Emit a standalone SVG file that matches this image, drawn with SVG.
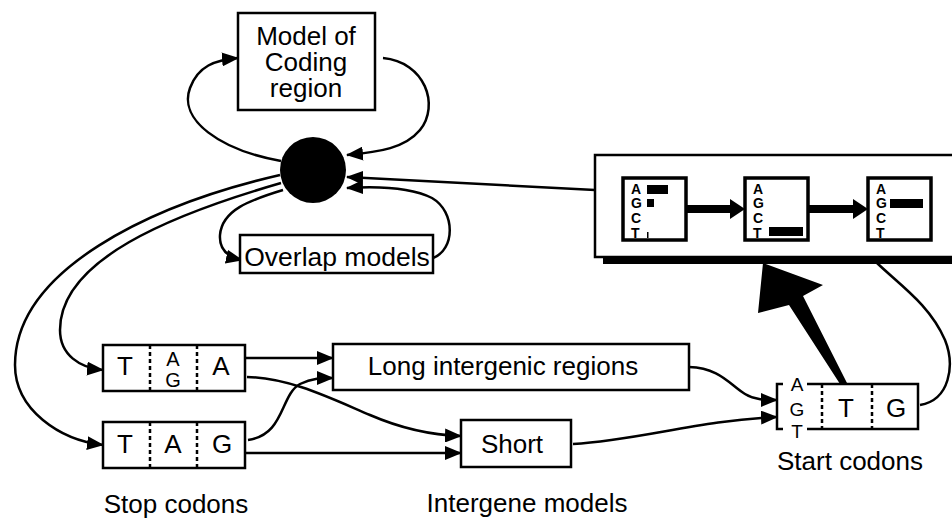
<svg xmlns="http://www.w3.org/2000/svg" width="952" height="520" viewBox="0 0 952 520">
<style>
.box{fill:#fff;stroke:#000;stroke-width:2.5}
.ibox{fill:#fff;stroke:#000;stroke-width:3.5}
.t{font-family:"Liberation Sans",Arial,sans-serif;font-size:26px;fill:#000}
.m{text-anchor:middle}
.s{font-family:"Liberation Sans",Arial,sans-serif;font-size:14px;font-weight:bold;fill:#000}
.dot{stroke:#000;stroke-width:2.5;stroke-dasharray:4 3}
.c{fill:none;stroke:#000;stroke-width:2.5}
.ca{fill:none;stroke:#000;stroke-width:2.5;marker-end:url(#ah)}
</style>
<defs>
<marker id="ah" viewBox="0 0 17 14" refX="16" refY="7" markerWidth="17" markerHeight="14" markerUnits="userSpaceOnUse" orient="auto">
<path d="M0,0 L17,7 L0,14 Z" fill="#000"/>
</marker>
</defs>
<rect width="952" height="520" fill="#fff"/>

<g id="connectors">
<path class="ca" d="M281,161 C220,150 178,120 190,88 C198,66 215,60 238,58"/>
<path class="ca" d="M383,58 C425,62 440,105 420,130 C405,148 380,152 347,155"/>
<path class="ca" d="M595,190 L347,177"/>
<path class="ca" d="M433,258 C455,250 456,212 432,198 C412,188 380,186 347,188"/>
<path class="ca" d="M283,190 C250,200 222,210 220,235 C219,250 228,257 242,260"/>
<path class="ca" d="M281,183 C170,215 60,260 60,330 C60,355 80,368 103,370"/>
<path class="ca" d="M280,175 C150,205 15,270 15,365 C15,410 60,440 103,445"/>
<path class="ca" d="M245,358 L333,358"/>
<path class="ca" d="M247,377 C290,378 330,398 370,415 C400,428 430,435 461,436"/>
<path class="ca" d="M248,440 C285,435 280,395 300,384 C312,378 322,378 333,378"/>
<path class="ca" d="M245,453 L461,453"/>
<path class="ca" d="M689,367 C720,368 730,385 745,394 C755,400 765,400 777,400"/>
<path class="ca" d="M573,444 C640,440 700,420 777,417"/>
<path class="c" d="M920,405 C950,400 955,365 945,340 C930,305 900,285 877,263"/>
</g>

<g id="panel">
<rect x="603" y="257" width="360" height="7" fill="#000"/>
<rect class="box" x="595" y="155" width="370" height="102"/>
<rect class="ibox" x="623" y="178" width="63" height="62"/>
<text class="s" x="631" y="194">A</text><text class="s" x="631" y="208">G</text><text class="s" x="631" y="223">C</text><text class="s" x="631" y="238">T</text>
<rect x="647" y="185" width="21" height="9" fill="#000"/>
<rect x="647" y="199" width="7" height="8" fill="#000"/>
<rect x="647" y="232" width="1.5" height="6" fill="#000"/>
<rect x="686" y="205" width="46" height="8" fill="#000"/>
<path d="M730,199 L745,209 L730,219 Z" fill="#000"/>
<rect class="ibox" x="745" y="178" width="63" height="62"/>
<text class="s" x="753" y="194">A</text><text class="s" x="753" y="208">G</text><text class="s" x="753" y="223">C</text><text class="s" x="753" y="238">T</text>
<rect x="769" y="227" width="34" height="9" fill="#000"/>
<rect x="808" y="205" width="48" height="8" fill="#000"/>
<path d="M853,199 L868,209 L853,219 Z" fill="#000"/>
<rect class="ibox" x="868" y="178" width="63" height="62"/>
<text class="s" x="876" y="194">A</text><text class="s" x="876" y="208">G</text><text class="s" x="876" y="223">C</text><text class="s" x="876" y="238">T</text>
<rect x="890" y="199" width="33" height="9" fill="#000"/>
</g>

<g id="bigarrow">
<path d="M763,263 L823,285 L803,296 L847,383 L840,384 L789,305 L758,313 Z" fill="#000"/>
</g>

<g id="model">
<rect class="box" x="238" y="13" width="137" height="97"/>
<text class="t m" x="306" y="45">Model of</text>
<text class="t m" x="306" y="71">Coding</text>
<text class="t m" x="306" y="97">region</text>
</g>

<g id="hub"><circle cx="313" cy="170" r="33" fill="#000"/></g>

<g id="overlap">
<rect class="box" x="240" y="235" width="193" height="38"/>
<text class="t m" x="337" y="266" style="font-size:26.5px">Overlap models</text>
</g>

<g id="stop1">
<rect class="box" x="103" y="345" width="142" height="46"/>
<line class="dot" x1="150" y1="345" x2="150" y2="391"/>
<line class="dot" x1="197" y1="345" x2="197" y2="391"/>
<text class="t m" x="125" y="375">T</text>
<text class="t m" x="173" y="366" style="font-size:20px">A</text>
<text class="t m" x="173" y="387" style="font-size:20px">G</text>
<text class="t m" x="221" y="375">A</text>
</g>

<g id="stop2">
<rect class="box" x="103" y="422" width="142" height="46"/>
<line class="dot" x1="150" y1="422" x2="150" y2="468"/>
<line class="dot" x1="197" y1="422" x2="197" y2="468"/>
<text class="t m" x="125" y="453">T</text>
<text class="t m" x="173" y="453">A</text>
<text class="t m" x="222" y="453">G</text>
</g>

<g id="long">
<rect class="box" x="333" y="344" width="356" height="46"/>
<text class="t m" x="503" y="375">Long intergenic regions</text>
</g>

<g id="short">
<rect class="box" x="461" y="420" width="110" height="47"/>
<text class="t m" x="512" y="453">Short</text>
</g>

<g id="start">
<path class="c" d="M783,384 L777,384 L777,429 L783,429"/>
<path class="c" d="M807,384 L918,384 L918,429 L807,429"/>
<line class="dot" x1="822" y1="384" x2="822" y2="429"/>
<line class="dot" x1="872" y1="384" x2="872" y2="429"/>
<text class="t m" x="797" y="391" style="font-size:19px">A</text>
<text class="t m" x="797" y="416" style="font-size:19px">G</text>
<text class="t m" x="797" y="438" style="font-size:19px">T</text>
<text class="t m" x="846" y="417">T</text>
<text class="t m" x="896" y="417">G</text>
</g>

<g id="labels">
<text class="t m" x="176" y="513">Stop codons</text>
<text class="t m" x="527" y="512">Intergene models</text>
<text class="t m" x="850" y="470">Start codons</text>
</g>
</svg>
